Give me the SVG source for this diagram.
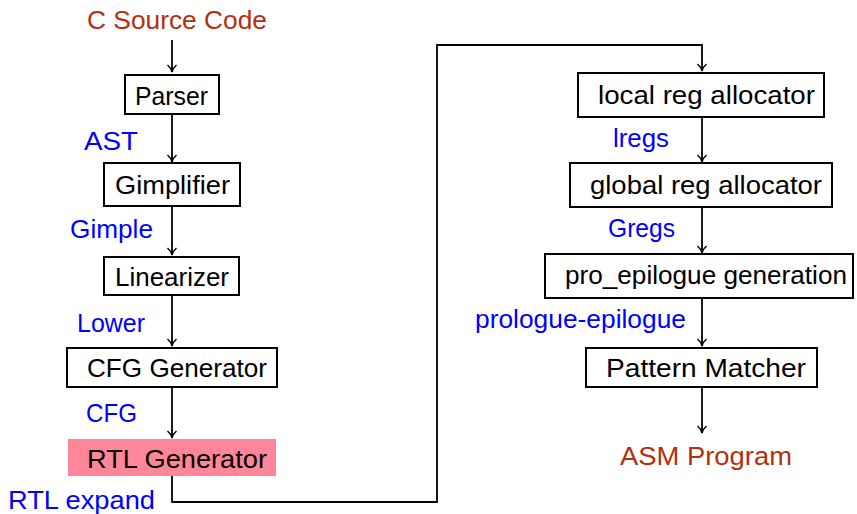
<svg xmlns="http://www.w3.org/2000/svg" width="857" height="514" viewBox="0 0 857 514">
<defs>
<marker id="arr" markerWidth="12" markerHeight="12" refX="9" refY="6" orient="auto" markerUnits="userSpaceOnUse">
<path d="M2,1.5 Q5,5 9,6 Q5,7 2,10.5" fill="none" stroke="#000" stroke-width="1.5"/>
</marker>
</defs>
<style>
text{font-family:"Liberation Sans",Arial,sans-serif;font-size:26px}
.box{fill:#fff;stroke:#000;stroke-width:2}
.lab{fill:#000}
.io{fill:#B3300E}
.edge{fill:#0000FF}
.con{fill:none;stroke:#000;stroke-width:1.8;marker-end:url(#arr)}
</style>
<rect width="857" height="514" fill="#fff"/>
<g id="connectors">
<path class="con" d="M172,40 V72"/>
<path class="con" d="M172,114 V162"/>
<path class="con" d="M172,207 V255"/>
<path class="con" d="M172,295 V346"/>
<path class="con" d="M172,387 V438"/>
<path class="con" d="M172,476 V502 H437 V45 H702 V71"/>
<path class="con" d="M702,117 V162"/>
<path class="con" d="M702,207 V253"/>
<path class="con" d="M702,298 V346"/>
<path class="con" d="M702,387 V433"/>
</g>
<g id="csource"><text class="io" x="87" y="29" textLength="180" lengthAdjust="spacingAndGlyphs">C Source Code</text></g>
<g id="parser"><rect class="box" x="125" y="75" width="94" height="39"/><text class="lab" x="135" y="105" textLength="73" lengthAdjust="spacingAndGlyphs">Parser</text></g>
<g id="ast"><text class="edge" x="84" y="150" textLength="54" lengthAdjust="spacingAndGlyphs">AST</text></g>
<g id="gimplifier"><rect class="box" x="104" y="163" width="136" height="43"/><text class="lab" x="115" y="194" textLength="115" lengthAdjust="spacingAndGlyphs">Gimplifier</text></g>
<g id="gimple"><text class="edge" x="70" y="238" textLength="83" lengthAdjust="spacingAndGlyphs">Gimple</text></g>
<g id="linearizer"><rect class="box" x="104" y="257" width="135" height="38"/><text class="lab" x="115" y="286" textLength="114" lengthAdjust="spacingAndGlyphs">Linearizer</text></g>
<g id="lower"><text class="edge" x="77" y="332" textLength="68" lengthAdjust="spacingAndGlyphs">Lower</text></g>
<g id="cfggen"><rect class="box" x="67" y="348" width="210" height="39"/><text class="lab" x="87" y="377" textLength="180" lengthAdjust="spacingAndGlyphs">CFG Generator</text></g>
<g id="cfg"><text class="edge" x="86" y="422" textLength="51" lengthAdjust="spacingAndGlyphs">CFG</text></g>
<g id="rtlgen"><rect x="68" y="439" width="208" height="37" fill="#FF8599"/><text class="lab" x="87" y="468" textLength="180" lengthAdjust="spacingAndGlyphs">RTL Generator</text></g>
<g id="rtlexpand"><text class="edge" x="8" y="509" textLength="147" lengthAdjust="spacingAndGlyphs">RTL expand</text></g>
<g id="localreg"><rect class="box" x="578" y="73" width="246" height="44"/><text class="lab" x="598" y="104" textLength="217" lengthAdjust="spacingAndGlyphs">local reg allocator</text></g>
<g id="lregs"><text class="edge" x="613" y="147" textLength="56" lengthAdjust="spacingAndGlyphs">lregs</text></g>
<g id="globalreg"><rect class="box" x="570" y="163" width="262" height="44"/><text class="lab" x="590" y="194" textLength="232" lengthAdjust="spacingAndGlyphs">global reg allocator</text></g>
<g id="gregs"><text class="edge" x="608" y="237" textLength="67" lengthAdjust="spacingAndGlyphs">Gregs</text></g>
<g id="proepi"><rect class="box" x="545" y="254" width="308" height="44"/><text class="lab" x="565" y="284" textLength="282" lengthAdjust="spacingAndGlyphs">pro_epilogue generation</text></g>
<g id="prologue"><text class="edge" x="475" y="328" textLength="211" lengthAdjust="spacingAndGlyphs">prologue-epilogue</text></g>
<g id="pattern"><rect class="box" x="586" y="348" width="231" height="39"/><text class="lab" x="606" y="377" textLength="200" lengthAdjust="spacingAndGlyphs">Pattern Matcher</text></g>
<g id="asm"><text class="io" x="620" y="465" textLength="172" lengthAdjust="spacingAndGlyphs">ASM Program</text></g>
</svg>
